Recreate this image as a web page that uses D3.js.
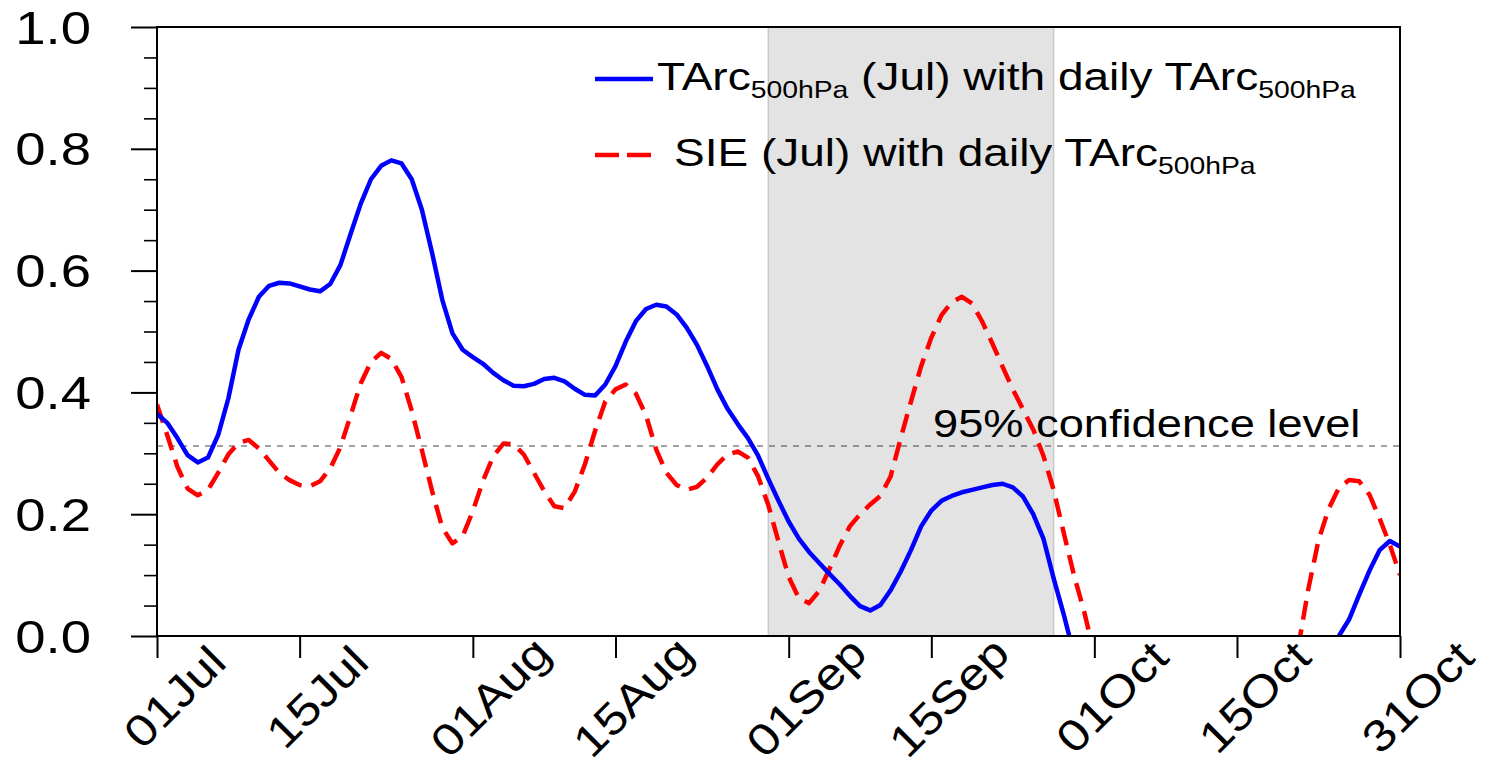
<!DOCTYPE html>
<html>
<head>
<meta charset="utf-8">
<script src="https://cdn.jsdelivr.net/npm/d3@7"></script>
<style>
  html, body { margin: 0; padding: 0; background: #fff; }
  svg { display: block; }
  text { font-family: "Liberation Sans", Arial, Helvetica, sans-serif; fill: #000; }
</style>
</head>
<body>
<svg id="chart" width="1487" height="767"></svg>
<script>
// Day offsets from 01 Jul (0 .. 122 = 31 Oct) and their tick labels
const tickDays   = [0, 14, 31, 45, 62, 76, 92, 106, 122];
const tickLabels = ["01Jul", "15Jul", "01Aug", "15Aug", "01Sep", "15Sep", "01Oct", "15Oct", "31Oct"];

// Y axis ticks
const yMajor = [0, 0.2, 0.4, 0.6, 0.8, 1.0];
const yMinor = [0.05, 0.1, 0.15, 0.25, 0.3, 0.35, 0.45, 0.5, 0.55, 0.65, 0.7, 0.75, 0.85, 0.9, 0.95];

// Shaded period (day offsets) and 95% confidence threshold
const shadeDays = [60, 88];
const confidence = 0.312;

// Daily correlation: TArc500hPa (Jul) with daily TArc500hPa (null = below 0, not shown)
const tarcCorr = [
  0.365, 0.350, 0.325, 0.297, 0.285, 0.293, 0.330, 0.390, 0.470, 0.520,
  0.557, 0.575, 0.580, 0.579, 0.574, 0.569, 0.566, 0.578, 0.609, 0.660,
  0.710, 0.750, 0.772, 0.781, 0.776, 0.750, 0.700, 0.629, 0.552, 0.497,
  0.470, 0.458, 0.447, 0.432, 0.420, 0.411, 0.410, 0.414, 0.422, 0.424,
  0.418, 0.406, 0.396, 0.395, 0.413, 0.443, 0.483, 0.517, 0.537, 0.544,
  0.541, 0.528, 0.506, 0.478, 0.443, 0.405, 0.373, 0.348, 0.325, 0.296,
  0.258, 0.222, 0.188, 0.160, 0.138, 0.120, 0.102, 0.085, 0.066, 0.049,
  0.042, 0.051, 0.075, 0.106, 0.141, 0.180, 0.206, 0.222, 0.230, 0.236,
  0.240, 0.244, 0.248, 0.250, 0.244, 0.229, 0.200, 0.160, 0.095, 0.035,
  -0.030, null, null, null, null, null, null, null, null, null,
  null, null, null, null, null, null, null, null, null, null,
  null, null, null, null, null, -0.030, 0.000, 0.027, 0.068, 0.107,
  0.141, 0.156, 0.147
];

// Daily correlation: SIE (Jul) with daily TArc500hPa (null = below 0, not shown)
const sieCorr = [
  0.380, 0.330, 0.278, 0.242, 0.231, 0.240, 0.268, 0.298, 0.317, 0.322,
  0.308, 0.288, 0.268, 0.256, 0.248, 0.246, 0.254, 0.275, 0.310, 0.362,
  0.415, 0.450, 0.465, 0.455, 0.425, 0.370, 0.305, 0.238, 0.178, 0.152,
  0.164, 0.205, 0.255, 0.295, 0.316, 0.315, 0.298, 0.268, 0.238, 0.213,
  0.210, 0.237, 0.282, 0.337, 0.385, 0.405, 0.413, 0.398, 0.362, 0.306,
  0.268, 0.248, 0.240, 0.245, 0.260, 0.282, 0.298, 0.303, 0.293, 0.262,
  0.215, 0.155, 0.097, 0.062, 0.054, 0.074, 0.110, 0.148, 0.180, 0.200,
  0.216, 0.230, 0.262, 0.325, 0.385, 0.443, 0.490, 0.527, 0.548, 0.557,
  0.546, 0.516, 0.480, 0.442, 0.405, 0.372, 0.339, 0.296, 0.240, 0.169,
  0.100, 0.040, -0.030, null, null, null, null, null, null, null,
  null, null, null, null, null, null, null, null, null, null,
  null, null, -0.020, 0.077, 0.157, 0.209, 0.243, 0.256, 0.254, 0.232,
  0.193, 0.150, 0.100
];

const legendItems = [
  { name: "TArc", sub: "500hPa", rest: " (Jul) with daily TArc", sub2: "500hPa", color: "#0000ff", dash: null, pad: 0 },
  { name: "SIE (Jul) with daily TArc", sub: "500hPa", rest: null, sub2: null, color: "#ff0000", dash: "24 8", pad: 17 }
];

// ---- layout ----
const plot = { left: 157, top: 27, right: 1400, bottom: 636 };
const stretch = 1.16;          // wide Helvetica-like lettering
const svg = d3.select("#chart");

const x = d3.scaleLinear().domain([0, 122]).range([plot.left, plot.right]);
const y = d3.scaleLinear().domain([0, 1]).range([plot.bottom, plot.top]);

svg.append("defs").append("clipPath").attr("id", "plotClip")
  .append("rect")
  .attr("x", plot.left).attr("y", plot.top)
  .attr("width", plot.right - plot.left).attr("height", plot.bottom - plot.top);

// shaded period
svg.append("rect")
  .attr("x", x(shadeDays[0])).attr("y", plot.top)
  .attr("width", x(shadeDays[1]) - x(shadeDays[0]))
  .attr("height", plot.bottom - plot.top)
  .attr("fill", "#e3e3e3").attr("stroke", "#c9c9c9").attr("stroke-width", 1.5);

// confidence threshold
svg.append("line")
  .attr("x1", plot.left).attr("x2", plot.right)
  .attr("y1", y(confidence)).attr("y2", y(confidence))
  .attr("stroke", "#444").attr("stroke-width", 1.2).attr("stroke-dasharray", "6 6");

svg.append("g").attr("transform", `translate(933,437) scale(${stretch},1)`)
  .append("text").attr("font-size", 39).text("95% confidence level");

// series lines
const line = d3.line()
  .defined(d => d != null)
  .x((d, i) => x(i))
  .y(d => y(d));

const lines = svg.append("g").attr("clip-path", "url(#plotClip)");
lines.append("path").datum(sieCorr)
  .attr("d", line).attr("fill", "none")
  .attr("stroke", "#ff0000").attr("stroke-width", 4.5)
  .attr("stroke-dasharray", "19 10").attr("stroke-linejoin", "round");
lines.append("path").datum(tarcCorr)
  .attr("d", line).attr("fill", "none")
  .attr("stroke", "#0000ff").attr("stroke-width", 4.5)
  .attr("stroke-linejoin", "round");

// frame
svg.append("rect")
  .attr("x", plot.left).attr("y", plot.top)
  .attr("width", plot.right - plot.left).attr("height", plot.bottom - plot.top)
  .attr("fill", "none").attr("stroke", "#000").attr("stroke-width", 2);

// y axis: major ticks with labels, minor ticks
const yAxis = svg.append("g").attr("transform", `translate(${plot.left},0)`)
  .call(d3.axisLeft(y).tickValues(yMajor).tickSize(26).tickSizeOuter(0).tickFormat(d3.format(".1f")));
yAxis.select(".domain").remove();
yAxis.selectAll(".tick line").attr("stroke-width", 2);
yAxis.selectAll(".tick text")
  .attr("x", null).attr("dy", null)
  .attr("font-size", 47)
  .attr("text-anchor", "end")
  .attr("dominant-baseline", "central")
  .attr("transform", `translate(-66,0) scale(${stretch},1)`);

const yMinorAxis = svg.append("g").attr("transform", `translate(${plot.left},0)`)
  .call(d3.axisLeft(y).tickValues(yMinor).tickSize(13).tickSizeOuter(0).tickFormat(""));
yMinorAxis.select(".domain").remove();
yMinorAxis.selectAll(".tick line").attr("stroke-width", 1.6);

// x axis
const xAxis = svg.append("g").attr("transform", `translate(0,${plot.bottom})`)
  .call(d3.axisBottom(x).tickValues(tickDays).tickSize(22).tickSizeOuter(0)
    .tickFormat((d, i) => tickLabels[i]));
xAxis.select(".domain").remove();
xAxis.selectAll(".tick line").attr("stroke-width", 2);
xAxis.selectAll(".tick text")
  .attr("y", null).attr("dy", null)
  .attr("font-size", 44)
  .attr("text-anchor", "middle")
  .attr("dominant-baseline", "central")
  .attr("transform", `translate(17,61) rotate(-45) scale(${stretch},1)`);

// legend
const legend = svg.append("g");
legendItems.forEach((item, k) => {
  const cy = 79 + k * 76;
  legend.append("line")
    .attr("x1", 595).attr("x2", 653).attr("y1", cy).attr("y2", cy)
    .attr("stroke", item.color).attr("stroke-width", 4.5)
    .attr("stroke-dasharray", item.dash);
  const t = legend.append("g")
    .attr("transform", `translate(${657 + item.pad},${cy + 11}) scale(1.18,1)`)
    .append("text").attr("font-size", 39);
  t.append("tspan").text(item.name);
  t.append("tspan").attr("font-size", 24).attr("dy", 8).text(item.sub);
  if (item.rest) {
    t.append("tspan").attr("dy", -8).text(item.rest);
    t.append("tspan").attr("font-size", 24).attr("dy", 8).text(item.sub2);
  }
});
</script>
</body>
</html>
